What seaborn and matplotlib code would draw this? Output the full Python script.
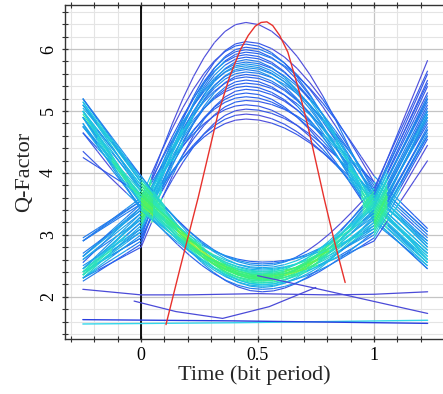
import numpy as np
import matplotlib
matplotlib.use("Agg")
import matplotlib.pyplot as plt
from matplotlib.collections import LineCollection
from matplotlib.colors import LinearSegmentedColormap, PowerNorm
from matplotlib.ticker import MultipleLocator
import seaborn as sns

# eye traces with a "1" in the middle bit
# values at t=-0.25, t=0, peak (t=0.45), t=1, t=1.23
up_start = [2.55, 2.50, 2.90, 2.40, 2.35, 2.35, 2.90, 2.40, 2.25, 2.65, 2.30, 2.95, 2.30, 2.45,
            2.60, 2.30, 2.65, 2.35, 2.40, 2.90, 2.30, 2.35, 2.70, 2.45, 2.65, 2.40, 2.45, 2.60]
up_cross0 = [3.45, 3.10, 3.60, 2.95, 3.30, 3.05, 3.50, 3.20, 2.85, 3.40, 3.15, 3.55, 3.00, 3.35,
             3.25, 2.90, 3.45, 3.10, 3.30, 3.55, 2.80, 3.20, 3.40, 3.05, 3.50, 2.95, 3.25, 3.35]
up_peak = [6.43, 6.12, 6.08, 6.03, 5.99, 5.95, 5.91, 5.87, 5.83, 5.79, 5.76, 5.73, 5.70, 5.67,
           5.63, 5.59, 5.55, 5.50, 5.45, 5.40, 5.35, 5.29, 5.23, 5.17, 5.10, 5.03, 4.95, 4.87]
up_cross1 = [3.55, 3.85, 3.30, 3.70, 3.45, 3.95, 3.40, 3.60, 3.25, 3.75, 3.50, 3.35, 3.65, 3.20,
             3.80, 3.45, 3.55, 3.30, 3.70, 3.40, 3.60, 3.25, 3.50, 3.85, 3.35, 3.65, 3.45, 3.55]
up_end = [2.60, 3.05, 2.50, 2.85, 2.70, 3.10, 2.55, 2.90, 2.45, 2.95, 2.65, 2.60, 2.80, 2.50,
          3.00, 2.70, 2.75, 2.55, 2.90, 2.60, 2.85, 2.45, 2.70, 3.05, 2.55, 2.80, 2.65, 2.75]

# eye traces with a "0" in the middle bit
# values at t=-0.25, t=0, trough (t=0.52), t=1, t=1.23
down_start = [5.00, 4.65, 5.10, 5.00, 5.05, 4.95, 5.00, 5.00, 4.65, 4.80, 5.20, 4.90, 4.80, 5.15, 5.20,
              4.35, 4.90, 5.20, 4.75, 4.90, 5.00, 5.10, 4.90, 4.75, 4.90, 5.10, 5.00, 5.15, 4.25, 4.75]
down_cross0 = [3.70, 3.45, 3.85, 3.55, 3.95, 3.60, 3.50, 3.80, 3.65, 3.40, 3.90, 3.75, 3.55, 3.70, 3.85,
               3.45, 3.60, 3.95, 3.65, 3.50, 3.80, 3.75, 3.40, 3.70, 3.60, 3.90, 3.55, 3.85, 3.65, 3.50]
down_trough = [2.08, 2.12, 2.15, 2.17, 2.19, 2.20, 2.22, 2.23, 2.25, 2.26, 2.27, 2.28, 2.29, 2.30, 2.31,
               2.32, 2.33, 2.34, 2.35, 2.36, 2.37, 2.38, 2.40, 2.41, 2.43, 2.45, 2.47, 2.50, 2.53, 2.56]
down_cross1 = [3.30, 3.05, 3.55, 3.20, 3.65, 2.95, 3.40, 3.15, 3.50, 3.25, 3.70, 3.00, 3.35, 3.60, 3.10,
               3.45, 3.25, 3.55, 2.90, 3.40, 3.20, 3.65, 3.05, 3.50, 3.30, 3.15, 3.45, 3.75, 3.35, 3.10]
down_end = [4.80, 4.60, 5.40, 4.70, 5.45, 4.45, 5.10, 4.95, 5.20, 4.90, 5.82, 4.55, 5.05, 5.50, 4.75,
            5.25, 4.85, 5.30, 4.20, 5.00, 4.90, 5.60, 4.65, 5.15, 5.00, 4.70, 5.20, 5.65, 4.95, 4.60]

# edge shape: fraction of the way from the bit centre to the bit edge
edge_shape = [0.0, 0.012, 0.049, 0.109, 0.191, 0.293, 0.412, 0.546, 0.691, 0.844, 1.0]
tail_shape = [0.0, 0.25, 0.5, 0.75, 1.0]

# stray low traces
low_a_t = [-0.25, 0.0, 0.2, 0.5, 0.8, 1.0, 1.23]
low_a_q = [2.12, 2.03, 2.03, 2.05, 2.03, 2.04, 2.08]
low_b_t = [-0.03, 0.15, 0.35, 0.55, 0.75]
low_b_q = [1.93, 1.76, 1.65, 1.84, 2.15]
low_c_t = [0.5, 0.72, 1.23]
low_c_q = [2.34, 2.16, 1.73]
floor_blue_t = [-0.25, 0.4, 1.23]
floor_blue_q = [1.63, 1.61, 1.57]
floor_cyan_t = [-0.25, 0.4, 1.23]
floor_cyan_q = [1.56, 1.58, 1.62]

# Q-factor curve
q_time = [0.107, 0.17, 0.245, 0.33, 0.38, 0.425, 0.46, 0.49, 0.515, 0.54, 0.565, 0.595,
          0.63, 0.68, 0.717, 0.785, 0.828, 0.876]
q_value = [1.55, 2.5, 3.6, 4.95, 5.55, 5.98, 6.22, 6.37, 6.43, 6.44, 6.38, 6.22,
           5.95, 5.3, 4.74, 3.6, 2.92, 2.23]


def trace(a, c0, m, c1, b, tm):
    edge = np.array(edge_shape)
    tail = np.array(tail_shape)
    steps = np.linspace(0, 1, len(edge))
    t1 = -0.25 + 0.25 * tail
    y1 = a + (c0 - a) * tail
    t2 = (tm - tm * steps)[::-1]
    y2 = (m + (c0 - m) * edge)[::-1]
    t3 = tm + (1 - tm) * steps
    y3 = m + (c1 - m) * edge
    t4 = 1 + 0.23 * tail
    y4 = c1 + (b - c1) * tail
    t = np.concatenate([t1, t2[1:], t3[1:], t4[1:]])
    y = np.concatenate([y1, y2[1:], y3[1:], y4[1:]])
    return np.column_stack([t, y])


traces = [trace(*v, 0.45) for v in zip(up_start, up_cross0, up_peak, up_cross1, up_end)]
traces += [trace(*v, 0.52) for v in zip(down_start, down_cross0, down_trough, down_cross1, down_end)]

segs = np.concatenate([np.stack([tr[:-1], tr[1:]], axis=1) for tr in traces])
mid = segs.mean(axis=1)
dt = np.abs(mid[:, None, 0] - mid[None, :, 0]) < 0.035
dy = np.abs(mid[:, None, 1] - mid[None, :, 1]) < 0.07
density = (dt & dy).sum(axis=1)

eye_cmap = LinearSegmentedColormap.from_list(
    "eye", ["#5050dc", "#2b5eee", "#1c9aec", "#20c8e2", "#2ee6b4", "#40f26a", "#b8ee34"])

sns.set_style("ticks")
plt.rcParams["font.family"] = ["Liberation Serif", "DejaVu Serif"]

fig = plt.figure(figsize=(4.43, 3.94), dpi=100)
ax = fig.add_axes([0.147, 0.14, 0.853, 0.847])

ax.xaxis.set_major_locator(MultipleLocator(0.5))
ax.xaxis.set_minor_locator(MultipleLocator(0.1))
ax.yaxis.set_major_locator(MultipleLocator(1))
ax.yaxis.set_minor_locator(MultipleLocator(0.2))
ax.grid(which="major", color="#c4c4c4", lw=0.9)
ax.grid(which="minor", color="#e4e4e4", lw=0.8)
ax.axvline(0, color="black", lw=1.3, zorder=1)

lc = LineCollection(segs, cmap=eye_cmap,
                    norm=PowerNorm(gamma=0.8, vmin=1, vmax=density.max() * 1.05),
                    linewidths=0.85, zorder=2)
lc.set_array(density)
ax.add_collection(lc)

sns.lineplot(x=floor_cyan_t, y=floor_cyan_q, color="#34d6ea", lw=1.0, sort=False, estimator=None, ax=ax)
sns.lineplot(x=floor_blue_t, y=floor_blue_q, color="#2a3ee0", lw=1.0, sort=False, estimator=None, ax=ax)
for tt, qq in [(low_a_t, low_a_q), (low_b_t, low_b_q), (low_c_t, low_c_q)]:
    sns.lineplot(x=tt, y=qq, color="#4a4ad8", lw=0.9, sort=False, estimator=None, ax=ax)
sns.lineplot(x=q_time, y=q_value, color="#e8312c", lw=1.0, sort=False, estimator=None, ax=ax, zorder=5)

ax.set_xlim(-0.326, 1.296)
ax.set_ylim(1.32, 6.71)
ax.set_xticks([0, 0.5, 1])
ax.set_xticklabels(["0", "0.5", "1"])
ax.set_yticks([2, 3, 4, 5, 6])
ax.tick_params(which="both", direction="inout", top=True, right=False, colors="#333333",
               labelcolor="black", labelsize=13)
ax.tick_params(which="major", length=5, width=0.9)
ax.tick_params(which="minor", length=4, width=0.8)
for lab in ax.get_yticklabels():
    lab.set_rotation(90)
    lab.set_va("center")
ax.spines["right"].set_visible(False)
for s in ["left", "bottom", "top"]:
    ax.spines[s].set_color("#333333")
    ax.spines[s].set_linewidth(1.0)

ax.set_xlabel("Time (bit period)", fontsize=16, labelpad=1)
ax.set_ylabel("Q-Factor", fontsize=16, labelpad=4)

fig.savefig("out.png", dpi=100)
